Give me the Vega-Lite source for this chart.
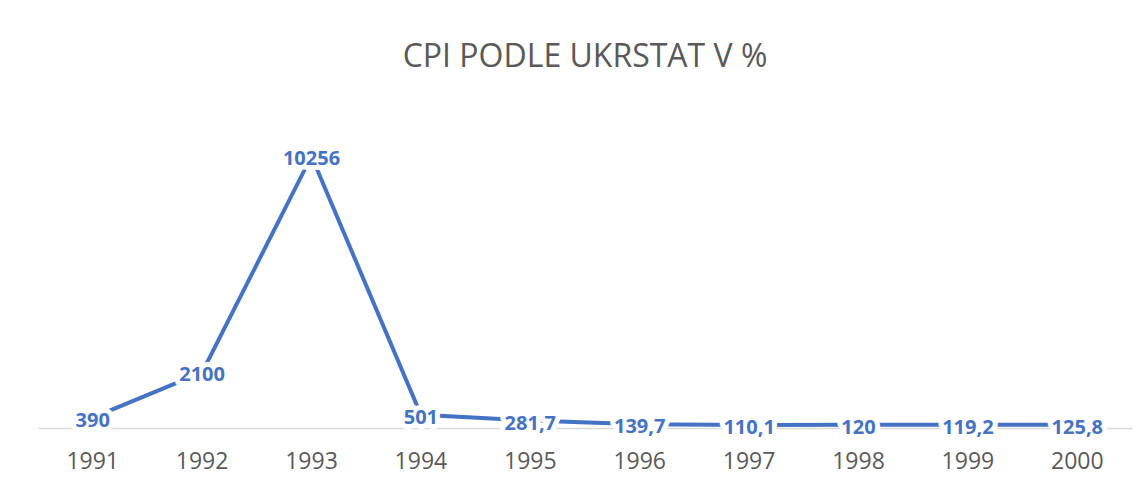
{
  "$schema": "https://vega.github.io/schema/vega-lite/v6.json",
  "width": 1094,
  "height": 318,
  "autosize": {"type": "none"},
  "padding": {"left": 38, "top": 110, "right": 11, "bottom": 59},
  "background": "white",
  "config": {"view": {"stroke": null}, "font": "Open Sans"},
  "title": {
    "text": "CPI PODLE UKRSTAT V %",
    "font": "Open Sans",
    "fontSize": 32,
    "fontWeight": "normal",
    "color": "#595959",
    "anchor": "middle",
    "offset": 36
  },
  "data": {
    "values": [
      {"year": "1991", "cpi": 390, "label": "390"},
      {"year": "1992", "cpi": 2100, "label": "2100"},
      {"year": "1993", "cpi": 10256, "label": "10256"},
      {"year": "1994", "cpi": 501, "label": "501"},
      {"year": "1995", "cpi": 281.7, "label": "281,7"},
      {"year": "1996", "cpi": 139.7, "label": "139,7"},
      {"year": "1997", "cpi": 110.1, "label": "110,1"},
      {"year": "1998", "cpi": 120, "label": "120"},
      {"year": "1999", "cpi": 119.2, "label": "119,2"},
      {"year": "2000", "cpi": 125.8, "label": "125,8"}
    ]
  },
  "encoding": {
    "x": {
      "field": "year",
      "type": "ordinal",
      "scale": {"type": "band", "paddingInner": 0, "paddingOuter": 0},
      "axis": {
        "title": null,
        "labelAngle": 0,
        "labelFont": "Open Sans",
        "labelFontSize": 23,
        "labelColor": "#595959",
        "labelPadding": 22,
        "ticks": false,
        "domainColor": "#d9d9d9",
        "domainWidth": 1.5,
        "grid": false
      }
    },
    "y": {
      "field": "cpi",
      "type": "quantitative",
      "scale": {"domain": [0, 12000], "nice": false},
      "axis": null
    }
  },
  "layer": [
    {
      "mark": {"type": "line", "color": "#4472C4", "strokeWidth": 4, "strokeCap": "butt"}
    },
    {
      "mark": {
        "type": "text",
        "font": "Open Sans",
        "fontSize": 20,
        "fontWeight": "bold",
        "stroke": "white",
        "strokeWidth": 10,
        "strokeJoin": "round",
        "fill": "white",
        "dy": 3
      },
      "encoding": {"text": {"field": "label"}}
    },
    {
      "mark": {
        "type": "text",
        "font": "Open Sans",
        "fontSize": 20,
        "fontWeight": "bold",
        "color": "#4472C4",
        "dy": 3
      },
      "encoding": {"text": {"field": "label"}}
    }
  ]
}
